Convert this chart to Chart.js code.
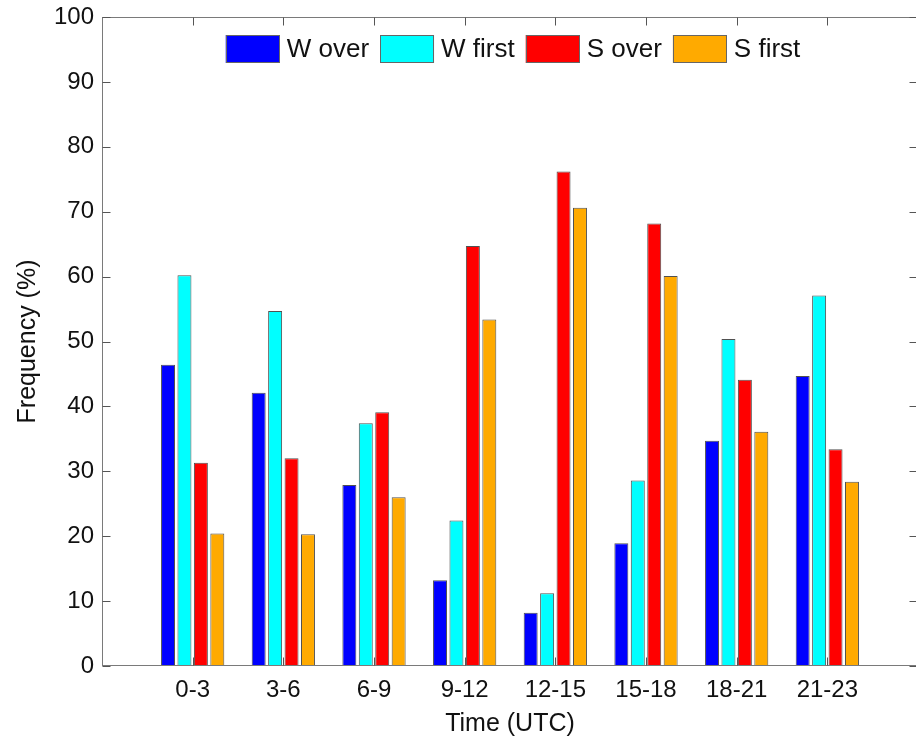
<!DOCTYPE html>
<html>
<head>
<meta charset="utf-8">
<script src="https://cdn.jsdelivr.net/npm/chart.js@4"></script>
<style>
  html, body { margin: 0; padding: 0; background: #fff; overflow: hidden; }
  #wrap { width: 925px; height: 739px; position: relative; }
</style>
</head>
<body>
<div id="wrap"><canvas id="chart"></canvas></div>
<script>
// Time-of-day bins (UTC)
const categories = ['0-3', '3-6', '6-9', '9-12', '12-15', '15-18', '18-21', '21-23'];

// Frequencies (%) per bin
const wOver  = [46.4, 42.1, 27.9, 13.2,  8.2, 18.9, 34.7, 44.7];
const wFirst = [60.2, 54.7, 37.4, 22.4, 11.2, 28.6, 50.4, 57.1];
const sOver  = [31.3, 32.0, 39.1, 64.7, 76.2, 68.2, 44.1, 33.4];
const sFirst = [20.4, 20.3, 26.0, 53.4, 70.6, 60.1, 36.1, 28.4];

const seriesNames = ['W over', 'W first', 'S over', 'S first'];
const seriesColors = ['#0000ff', '#00ffff', '#ff0000', '#ffaa00'];
const seriesValues = [wOver, wFirst, sOver, sFirst];

const yTicks = [0, 10, 20, 30, 40, 50, 60, 70, 80, 90, 100];

const FONT = '"Liberation Sans", Arial, Helvetica, sans-serif';
const TEXT = '#111';
const AXIS = '#7a7a7a';

// categories sit at x = 1..N on a 0..N+1 axis
const toPoints = vals => vals.map((v, i) => ({ x: i + 1, y: v }));

// Box frame with inward tick marks on all four sides
const framePlugin = {
  id: 'frame',
  afterDatasetsDraw(chart) {
    const { ctx, chartArea: a, scales } = chart;
    const L = Math.round(a.left) + 0.5, R = Math.round(a.right) - 0.5;
    const T = Math.round(a.top) + 0.5, B = Math.round(a.bottom) - 0.5;
    ctx.save();
    ctx.strokeStyle = AXIS;
    ctx.lineWidth = 1;
    ctx.strokeRect(L, T, R - L, B - T);
    ctx.strokeStyle = '#555';
    const len = 8;
    ctx.beginPath();
    yTicks.forEach(v => {
      const y = Math.round(scales.y.getPixelForValue(v)) + 0.5;
      ctx.moveTo(L, y); ctx.lineTo(L + len, y);
      ctx.moveTo(R, y); ctx.lineTo(R - len, y);
    });
    categories.forEach((c, i) => {
      const x = Math.round(scales.x.getPixelForValue(i + 1)) + 0.5;
      ctx.moveTo(x, B); ctx.lineTo(x, B - len);
      ctx.moveTo(x, T); ctx.lineTo(x, T + len);
    });
    ctx.stroke();
    ctx.restore();
  }
};

// Horizontal legend inside the top of the plot area
const legendPlugin = {
  id: 'innerLegend',
  afterDraw(chart) {
    const { ctx, chartArea: a } = chart;
    const boxW = 54, boxH = 28, gap = 7, pad = 11;
    ctx.save();
    ctx.font = '26px ' + FONT;
    const items = chart.data.datasets.map(ds => ({
      label: ds.label, color: ds.backgroundColor,
      w: ctx.measureText(ds.label).width
    }));
    const total = items.reduce((s, it) => s + boxW + gap + it.w, 0) + pad * (items.length - 1);
    let x = (a.left + a.right) / 2 - total / 2 + 3;
    const yTop = a.top + 18;
    ctx.textBaseline = 'middle';
    ctx.textAlign = 'left';
    items.forEach(it => {
      ctx.fillStyle = it.color;
      ctx.fillRect(x, yTop, boxW, boxH);
      ctx.strokeStyle = '#666';
      ctx.lineWidth = 1;
      ctx.strokeRect(Math.round(x) + 0.5, yTop + 0.5, boxW - 1, boxH - 1);
      ctx.fillStyle = TEXT;
      ctx.fillText(it.label, x + boxW + gap, yTop + boxH / 2 + 1);
      x += boxW + gap + it.w + pad;
    });
    ctx.restore();
  }
};

new Chart(document.getElementById('chart'), {
  type: 'bar',
  data: {
    datasets: seriesNames.map((name, k) => ({
      label: name,
      data: toPoints(seriesValues[k]),
      backgroundColor: seriesColors[k],
      borderColor: 'rgba(50,50,50,0.85)',
      borderWidth: 1,
      categoryPercentage: 0.725,
      barPercentage: 0.85
    }))
  },
  options: {
    responsive: true,
    maintainAspectRatio: false,
    animation: false,
    layout: { padding: { top: 17, right: 7, bottom: 0, left: 0 } },
    plugins: {
      legend: { display: false },
      tooltip: { enabled: false }
    },
    scales: {
      x: {
        type: 'linear',
        offset: false,
        min: 0,
        max: categories.length + 1,
        grid: { display: false, drawTicks: false, offset: false },
        border: { display: false },
        afterBuildTicks: scale => {
          scale.ticks = categories.map((c, i) => ({ value: i + 1 }));
        },
        afterFit: scale => { scale.height = 73; },
        ticks: {
          autoSkip: false,
          maxRotation: 0,
          padding: 12,
          color: TEXT,
          font: { family: FONT, size: 24, lineHeight: 1 },
          callback: v => categories[v - 1]
        },
        title: {
          display: true,
          text: 'Time (UTC)',
          color: TEXT,
          font: { family: FONT, size: 25 },
          padding: { top: 0, bottom: 0 }
        }
      },
      y: {
        min: 0,
        max: 100,
        grid: { display: false, drawTicks: false },
        border: { display: false },
        afterFit: scale => {
          scale.width = 102;
          scale.paddingTop = 0;
          scale.paddingBottom = 0;
        },
        ticks: {
          stepSize: 10,
          padding: 8,
          color: TEXT,
          font: { family: FONT, size: 24, lineHeight: 1 }
        },
        title: {
          display: true,
          text: 'Frequency (%)',
          color: TEXT,
          font: { family: FONT, size: 25 },
          padding: { top: 13, bottom: 0 }
        }
      }
    }
  },
  plugins: [framePlugin, legendPlugin]
});
</script>
</body>
</html>
